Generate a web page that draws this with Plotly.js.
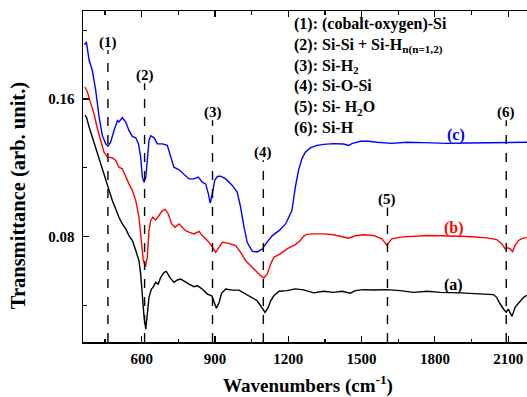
<!DOCTYPE html>
<html>
<head>
<meta charset="utf-8">
<script src="https://cdn.plot.ly/plotly-3.0.1.min.js"></script>
<style>html,body{margin:0;padding:0;background:#fff;}#chart{width:527px;height:397px;}</style>
</head>
<body>
<div id="chart"></div>
<script>
// ---- data ----
const wavenumberC = [366,374,385,398,412,426,439,453,462,473,487,501,507,521,535,548,562,576,587,596,603,610,617,623,630,637,651,664,685,705,719,732,753,773,794,814,832,848,862,873,881,889,899,910,923,944,971,991,1005,1019,1032,1053,1073,1094,1107,1135,1162,1189,1215,1229,1242,1256,1270,1290,1317,1345,1385,1426,1447,1460,1495,1529,1563,1624,1685,1754,1849,1931,2013,2094,2177];
const transC = [0.1915,0.1932,0.1825,0.1767,0.1650,0.1495,0.1388,0.1339,0.1326,0.1349,0.1417,0.1475,0.1466,0.1491,0.1466,0.1417,0.1382,0.1374,0.1339,0.1262,0.1145,0.1116,0.1145,0.1262,0.1359,0.1386,0.1374,0.1339,0.1339,0.1330,0.1271,0.1203,0.1188,0.1161,0.1135,0.1135,0.1145,0.1116,0.1106,0.1048,0.0994,0.1048,0.1126,0.1149,0.1151,0.1135,0.1097,0.1058,0.0970,0.0854,0.0766,0.0714,0.0710,0.0727,0.0756,0.0805,0.0834,0.0873,0.0951,0.1087,0.1185,0.1253,0.1291,0.1315,0.1330,0.1336,0.1340,0.1338,0.1330,0.1340,0.1354,0.1354,0.1348,0.1342,0.1348,0.1346,0.1342,0.1344,0.1346,0.1348,0.1348];

const wavenumberB = [368,378,392,405,419,432,446,460,480,494,507,521,535,548,562,576,589,600,607,616,623,630,637,646,657,671,685,698,709,723,736,753,766,780,794,814,835,848,869,886,903,916,930,957,985,1005,1026,1046,1066,1087,1100,1114,1128,1141,1167,1195,1229,1249,1263,1276,1304,1345,1385,1420,1447,1474,1508,1549,1583,1597,1604,1610,1624,1658,1713,1767,1822,1876,1931,2013,2053,2074,2088,2098,2108,2118,2128,2142,2163,2177];
const transB = [0.1670,0.1641,0.1573,0.1514,0.1427,0.1359,0.1291,0.1262,0.1258,0.1242,0.1203,0.1194,0.1145,0.1106,0.1067,0.1009,0.0912,0.0776,0.0659,0.0624,0.0679,0.0834,0.0892,0.0912,0.0896,0.0922,0.0951,0.0957,0.0931,0.0873,0.0854,0.0873,0.0854,0.0834,0.0825,0.0815,0.0830,0.0805,0.0776,0.0747,0.0708,0.0737,0.0766,0.0760,0.0747,0.0708,0.0659,0.0630,0.0601,0.0572,0.0558,0.0582,0.0640,0.0679,0.0699,0.0728,0.0753,0.0777,0.0802,0.0812,0.0815,0.0815,0.0810,0.0800,0.0790,0.0804,0.0810,0.0806,0.0786,0.0761,0.0747,0.0761,0.0786,0.0796,0.0802,0.0806,0.0804,0.0802,0.0800,0.0792,0.0782,0.0757,0.0728,0.0734,0.0728,0.0712,0.0747,0.0777,0.0792,0.0792];

const wavenumberA = [368,374,385,398,412,426,439,453,467,480,494,507,521,535,548,562,576,589,596,603,610,617,623,630,640,647,657,668,678,692,701,715,732,746,760,773,794,814,828,848,869,887,896,906,917,927,944,971,998,1026,1053,1073,1087,1105,1118,1128,1141,1162,1195,1229,1263,1304,1345,1385,1420,1454,1474,1508,1549,1604,1658,1713,1767,1822,1904,1985,2040,2053,2067,2081,2092,2100,2111,2116,2128,2142,2163,2177];
const transA = [0.1505,0.1495,0.1437,0.1378,0.1320,0.1252,0.1194,0.1126,0.1067,0.1009,0.0960,0.0912,0.0873,0.0844,0.0805,0.0776,0.0718,0.0659,0.0582,0.0446,0.0329,0.0261,0.0348,0.0446,0.0494,0.0504,0.0533,0.0523,0.0562,0.0591,0.0597,0.0562,0.0533,0.0547,0.0552,0.0539,0.0523,0.0508,0.0514,0.0494,0.0465,0.0455,0.0416,0.0383,0.0416,0.0469,0.0494,0.0488,0.0488,0.0465,0.0446,0.0426,0.0397,0.0358,0.0387,0.0426,0.0455,0.0481,0.0485,0.0495,0.0489,0.0472,0.0481,0.0475,0.0481,0.0470,0.0485,0.0491,0.0489,0.0491,0.0485,0.0475,0.0481,0.0475,0.0472,0.0466,0.0462,0.0446,0.0407,0.0378,0.0359,0.0378,0.0349,0.0335,0.0388,0.0411,0.0446,0.0458];

const seriesNames = ['(a)', '(b)', '(c)'];
const peakLabels = ['(1)', '(2)', '(3)', '(4)', '(5)', '(6)'];
const peakWavenumbers = [462, 612, 890, 1098, 1606, 2092];
const peakLineTops = [0.1884, 0.1691, 0.1476, 0.1243, 0.0969, 0.1476];
const assignments = [
  '(1): (cobalt-oxygen)-Si',
  '(2): Si-Si + Si-H<sub>n(n=1,2)</sub>',
  '(3): Si-H<sub>2</sub>',
  '(4): Si-O-Si',
  '(5): Si- H<sub>2</sub>O',
  '(6): Si-H'
];
const xTitle = 'Wavenumbers (cm<sup>-1</sup>)';
const yTitle = 'Transmittance (arb. unit.)';

// ---- styling / layout ----
const FONT = 'Liberation Serif, Times New Roman, serif';
const colors = ['#000000', '#ff0000', '#0000ff'];
const curveLabelPos = [[1875, 0.0517], [1879, 0.0849], [1887, 0.1389]];
const X_RANGE = [360, 2177];
const Y_RANGE = [0.0186, 0.2112];

const xs = [wavenumberA, wavenumberB, wavenumberC];
const ys = [transA, transB, transC];
const traces = xs.map((x, i) => ({
  x: x, y: ys[i], type: 'scatter', mode: 'lines', name: seriesNames[i],
  line: {color: colors[i], width: 1.4}, hoverinfo: 'skip'
}));

const shapes = peakWavenumbers.map((w, i) => ({
  type: 'line', xref: 'x', yref: 'y', x0: w, x1: w, y0: Y_RANGE[0], y1: peakLineTops[i],
  line: {color: '#000', width: 1.4, dash: 'dash'}
}));

const annotations = [];
peakWavenumbers.forEach((w, i) => annotations.push({
  xref: 'x', yref: 'y', x: w, y: peakLineTops[i], text: '<b>' + peakLabels[i] + '</b>',
  showarrow: false, xanchor: 'center', yanchor: 'middle', yshift: 8,
  font: {family: FONT, size: 15, color: '#000'}
}));
seriesNames.forEach((n, i) => annotations.push({
  xref: 'x', yref: 'y', x: curveLabelPos[i][0], y: curveLabelPos[i][1], text: '<b>' + n + '</b>',
  showarrow: false, xanchor: 'center', yanchor: 'middle',
  font: {family: FONT, size: 16, color: colors[i]}
}));
annotations.push({
  xref: 'paper', yref: 'paper', x: 0.4704, y: 0.993, xanchor: 'left', yanchor: 'top',
  align: 'left', showarrow: false,
  text: assignments.map(t => '<b>' + t + '</b>').join('<br>'),
  font: {family: FONT, size: 16, color: '#000'}
});
annotations.push({
  xref: 'paper', yref: 'paper', x: -0.1434, y: 0.4413, xanchor: 'center', yanchor: 'middle',
  textangle: -90, showarrow: false, text: '<b>' + yTitle + '</b>',
  font: {family: FONT, size: 20.5, color: '#000'}
});
annotations.push({
  xref: 'paper', yref: 'paper', x: 0.507, y: -0.1288, xanchor: 'center', yanchor: 'middle',
  showarrow: false, text: '<b>' + xTitle + '</b>',
  font: {family: FONT, size: 19, color: '#000'}
});

const tickFont = {family: FONT, size: 15, color: '#000', weight: 'bold'};
const layout = {
  width: 527, height: 397,
  margin: {l: 83, r: 0, t: 11, b: 55, pad: 0},
  paper_bgcolor: '#fff', plot_bgcolor: '#fff',
  showlegend: false,
  xaxis: {
    range: X_RANGE, showgrid: false, zeroline: false,
    showline: true, linecolor: '#000', linewidth: 1.5, mirror: 'ticks',
    ticks: 'inside', ticklen: 6, tickwidth: 1.2, tickcolor: '#000',
    tick0: 0, dtick: 300, tickfont: tickFont, ticklabelstandoff: 2,
    minor: {tick0: 0, dtick: 150, ticks: 'inside', ticklen: 3.5, tickwidth: 1.2, tickcolor: '#000', showgrid: false}
  },
  yaxis: {
    range: Y_RANGE, showgrid: false, zeroline: false,
    showline: true, linecolor: '#000', linewidth: 1.5, mirror: false,
    ticks: 'inside', ticklen: 6, tickwidth: 1.2, tickcolor: '#000',
    tick0: 0, dtick: 0.08, tickfont: tickFont, tickformat: '.2f', ticklabelstandoff: 4,
    minor: {tick0: 0, dtick: 0.04, ticks: 'inside', ticklen: 3.5, tickwidth: 1.2, tickcolor: '#000', showgrid: false}
  },
  shapes: shapes,
  annotations: annotations
};

Plotly.newPlot('chart', traces, layout, {staticPlot: true, displayModeBar: false});
</script>
</body>
</html>
